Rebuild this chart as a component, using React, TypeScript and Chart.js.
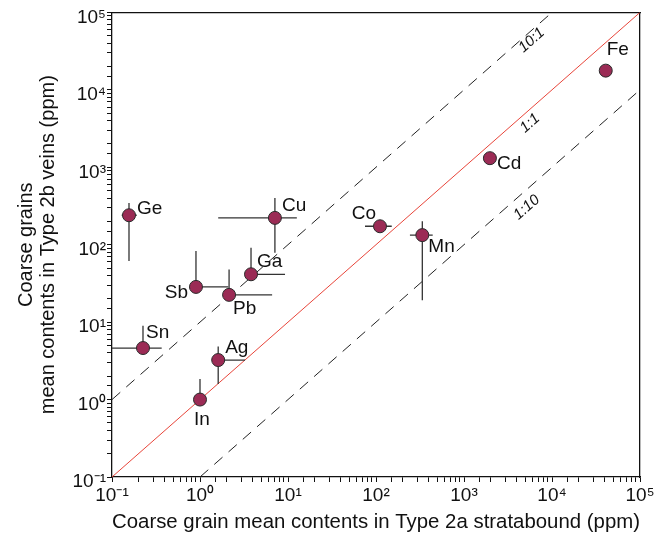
import React, { useEffect, useRef } from "react";
import { Chart, registerables } from "chart.js";

Chart.register(...registerables);

// ---- Data ----
const elements = ["Ge", "Cu", "Ga", "Sb", "Pb", "Sn", "Ag", "In", "Co", "Mn", "Cd", "Fe"];
const stratabound = [0.156, 7.1, 3.8, 0.9, 2.14, 0.225, 1.61, 1.0, 111, 336, 1970, 40800];
const veins = [240, 222, 41.5, 28.5, 22.5, 4.63, 3.24, 1.0, 173, 133, 1310, 17700];
const xErrLow = [0.129, 1.61, null, null, null, 0.1, null, null, 75, 243, null, null];
const xErrHigh = [0.191, 12.6, 9.25, 2.1, 6.6, 0.367, 3.25, null, 151, 441, null, null];
const yErrLow = [61.5, 78.7, null, null, null, null, 1.59, null, null, 19.2, null, null];
const yErrHigh = [346, 401, 91, 82.7, 48, 8.96, 4.85, 1.85, null, 201, null, null];

const ratioLabels = ["10:1", "1:1", "1:10"];
const ratios = [10, 1, 0.1];
const ratioLabelAt = [5875, 5623, 5156]; // x value along each line where the label sits
const axisMin = 0.1;
const axisMax = 1e5;

// ---- Styles ----
const labelStyle: Record<string, [number, number, CanvasTextAlign]> = {
  Ge: [8, -6, "left"],
  Cu: [7, -12, "left"],
  Ga: [6, -13, "left"],
  Sb: [-8, 6, "right"],
  Pb: [4, 14, "left"],
  Sn: [3, -15, "left"],
  Ag: [7, -12, "left"],
  In: [2, 20, "center"],
  Co: [-4, -13, "right"],
  Mn: [6, 12, "left"],
  Cd: [7, 6, "left"],
  Fe: [1, -21, "left"],
};
const ratioLabelDy = [10, 14, 18];

const SUP: Record<string, string> = {
  "-": "\u207B", "0": "\u2070", "1": "\u00B9", "2": "\u00B2", "3": "\u00B3",
  "4": "\u2074", "5": "\u2075", "6": "\u2076", "7": "\u2077", "8": "\u2078", "9": "\u2079",
};
const FONT = "'Liberation Sans', Arial, Helvetica, sans-serif";

function decadeLabel(v: number): string {
  const e = Math.log10(v);
  if (Math.abs(e - Math.round(e)) > 1e-9) return "";
  const s = String(Math.round(e)).split("").map((c) => SUP[c]).join("");
  return "10" + s;
}

export default function App() {
  const ref = useRef<HTMLCanvasElement | null>(null);

  useEffect(() => {
    if (!ref.current) return;
    const datasets: any[] = [];

    // ratio lines
    ratios.forEach((r, i) => {
      const x0 = Math.max(axisMin, axisMin / r);
      const x1 = Math.min(axisMax, axisMax / r);
      datasets.push({
        label: ratioLabels[i],
        data: [
          { x: x0, y: x0 * r },
          { x: x1, y: x1 * r },
        ],
        showLine: true,
        borderColor: r === 1 ? "#e8453a" : "#222222",
        borderWidth: 1,
        borderDash: r === 1 ? [] : [11, 8],
        pointRadius: 0,
        order: 5,
      });
    });

    // error bars
    elements.forEach((el, i) => {
      const xl = xErrLow[i] ?? stratabound[i];
      const xh = xErrHigh[i] ?? stratabound[i];
      if (xl !== xh) {
        datasets.push({
          label: el + "-xerr",
          data: [
            { x: xl, y: veins[i] },
            { x: xh, y: veins[i] },
          ],
          showLine: true,
          borderColor: "#333333",
          borderWidth: 1.3,
          pointRadius: 0,
          order: 3,
        });
      }
      const yl = yErrLow[i] ?? veins[i];
      const yh = yErrHigh[i] ?? veins[i];
      if (yl !== yh) {
        datasets.push({
          label: el + "-yerr",
          data: [
            { x: stratabound[i], y: yl },
            { x: stratabound[i], y: yh },
          ],
          showLine: true,
          borderColor: "#333333",
          borderWidth: 1.3,
          pointRadius: 0,
          order: 3,
        });
      }
    });

    datasets.push({
      label: "points",
      data: elements.map((_, i) => ({ x: stratabound[i], y: veins[i] })),
      pointRadius: 6.5,
      pointBackgroundColor: "#9b2b55",
      pointBorderColor: "#2a2a2a",
      pointBorderWidth: 1,
      showLine: false,
      order: 1,
    });
    const pointsIndex = datasets.length - 1;

    const labelsPlugin = {
      id: "labelsPlugin",
      afterDatasetsDraw(chart: any) {
        const ctx = chart.ctx;
        const meta = chart.getDatasetMeta(pointsIndex);
        ctx.save();
        ctx.fillStyle = "#111";
        ctx.font = `19px ${FONT}`;
        ctx.textBaseline = "middle";
        meta.data.forEach((p: any, i: number) => {
          const st = labelStyle[elements[i]];
          ctx.textAlign = st[2];
          ctx.fillText(elements[i], p.x + st[0], p.y + st[1]);
        });
        // ratio labels
        const xs = chart.scales.x;
        const ys = chart.scales.y;
        const ang = Math.atan2(
          ys.getPixelForValue(1e4) - ys.getPixelForValue(1),
          xs.getPixelForValue(1e4) - xs.getPixelForValue(1)
        );
        ctx.font = `italic 15px ${FONT}`;
        ctx.textAlign = "center";
        ratios.forEach((r, i) => {
          const xv = ratioLabelAt[i];
          const px = xs.getPixelForValue(xv);
          const py = ys.getPixelForValue(xv * r) + ratioLabelDy[i];
          ctx.save();
          ctx.translate(px, py);
          ctx.rotate(ang);
          ctx.fillText(ratioLabels[i], 0, 0);
          ctx.restore();
        });
        ctx.restore();
      },
    };

    const chart = new Chart(ref.current, {
      type: "scatter",
      data: { datasets },
      options: {
        animation: false,
        responsive: false,
        maintainAspectRatio: false,
        layout: { padding: { left: 0, top: 11, right: 19, bottom: 0 } },
        plugins: { legend: { display: false }, tooltip: { enabled: false } },
        scales: {
          x: {
            type: "logarithmic",
            position: "bottom",
            min: axisMin,
            max: axisMax,
            afterFit: (s: any) => {
              s.height = 61;
            },
            border: { display: true, color: "#111", width: 1.3 },
            grid: { display: true, drawOnChartArea: false, drawTicks: true, tickLength: 5, color: "#111", lineWidth: 1 },
            ticks: {
              autoSkip: false,
              maxRotation: 0,
              minRotation: 0,
              padding: 2,
              color: "#111",
              font: { size: 19, family: FONT },
              callback: (v: any) => decadeLabel(Number(v)),
            },
            title: {
              display: true,
              text: "Coarse grain mean contents in Type 2a stratabound (ppm)",
              color: "#111",
              font: { size: 20.5, family: FONT },
              padding: { top: 0, bottom: 3 },
            },
          },
          y: {
            type: "logarithmic",
            position: "left",
            min: axisMin,
            max: axisMax,
            afterFit: (s: any) => {
              s.width = 112;
            },
            border: { display: true, color: "#111", width: 1.3 },
            grid: { display: true, drawOnChartArea: false, drawTicks: true, tickLength: 5, color: "#111", lineWidth: 1 },
            ticks: {
              autoSkip: false,
              padding: 1,
              labelOffset: 5,
              color: "#111",
              font: { size: 19, family: FONT },
              callback: (v: any) => decadeLabel(Number(v)),
            },
            title: {
              display: true,
              text: ["Coarse grains", "mean contents in Type 2b veins (ppm)"],
              color: "#111",
              font: { size: 20, family: FONT, lineHeight: 1.1 },
              padding: { top: 15, bottom: 0 },
            },
          },
          x2: {
            type: "linear",
            position: "top",
            display: true,
            afterFit: (s: any) => {
              s.height = 0;
            },
            border: { display: true, color: "#111", width: 1.3 },
            grid: { display: false },
            ticks: { display: false },
          },
          y2: {
            type: "linear",
            position: "right",
            display: true,
            afterFit: (s: any) => {
              s.width = 0;
            },
            border: { display: true, color: "#111", width: 1.3 },
            grid: { display: false },
            ticks: { display: false },
          },
        },
      } as any,
      plugins: [labelsPlugin],
    });
    return () => chart.destroy();
  }, []);

  return (
    <div style={{ position: "fixed", left: 0, top: 0, width: 659, height: 538, background: "#fff" }}>
      <canvas ref={ref} width={659} height={538} style={{ width: 659, height: 538 }} />
    </div>
  );
}
